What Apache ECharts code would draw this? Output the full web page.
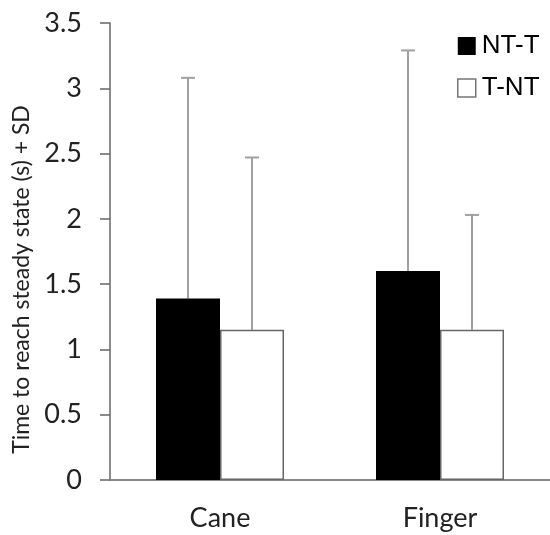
<!DOCTYPE html>
<html>
<head>
<meta charset="utf-8">
<script src="https://cdn.jsdelivr.net/npm/echarts@6/dist/echarts.min.js"></script>
<style>html,body{margin:0;padding:0;background:#fff}#c{width:550px;height:535px}</style>
</head>
<body>
<div id="c"></div>
<script>
var categories = ['Cane', 'Finger'];
var seriesNames = ['NT-T', 'T-NT'];
var meanNTT = [1.39, 1.60];
var meanTNT = [1.15, 1.15];
var sdTopNTT = [3.08, 3.29];
var sdTopTNT = [2.47, 2.03];
var yTicks = { min: 0, max: 3.5, interval: 0.5 };
var yTitle = 'Time to reach steady state (s) + SD';

var BAR_W = 64;
var LABEL_FONT = 'Lato, "Open Sans", sans-serif';

function errSeries(means, tops, offsetSign, color) {
  var data = categories.map(function (c, i) { return [i, means[i], tops[i]]; });
  return {
    type: 'custom',
    z: 1,
    silent: true,
    data: data,
    renderItem: function (params, api) {
      var i = api.value(0);
      var p0 = api.coord([i, api.value(1)]);
      var p1 = api.coord([i, api.value(2)]);
      var x = p0[0] + offsetSign * BAR_W / 2;
      var cap = 7;
      var st = { stroke: color, lineWidth: 2 };
      return {
        type: 'group',
        children: [
          { type: 'line', shape: { x1: x, y1: p0[1], x2: x, y2: p1[1] }, style: st },
          { type: 'line', shape: { x1: x - cap, y1: p1[1], x2: x + cap, y2: p1[1] }, style: st }
        ]
      };
    }
  };
}

var chart = echarts.init(document.getElementById('c'), null, { renderer: 'canvas' });
chart.setOption({
  backgroundColor: '#fff',
  animation: false,
  grid: { left: 110, right: -8, top: 23, bottom: 55, containLabel: false },
  legend: {
    orient: 'vertical',
    left: 452,
    top: 28,
    itemWidth: 18,
    itemHeight: 18,
    itemGap: 16,
    icon: 'rect',
    textStyle: { fontFamily: '"Liberation Sans", Arial, sans-serif', fontSize: 26, color: '#000', padding: [0, 0, 0, 1] },
    data: [
      { name: seriesNames[0], itemStyle: { color: '#000', borderColor: '#000', borderWidth: 0 } },
      { name: seriesNames[1], itemStyle: { color: '#fff', borderColor: '#777', borderWidth: 1.5 } }
    ]
  },
  xAxis: {
    type: 'category',
    data: categories,
    axisLine: { lineStyle: { color: '#888', width: 2 } },
    axisTick: { show: false },
    axisLabel: { fontFamily: LABEL_FONT, fontSize: 27, color: '#222', margin: 25 }
  },
  yAxis: {
    type: 'value',
    min: yTicks.min,
    max: yTicks.max,
    interval: yTicks.interval,
    name: yTitle,
    nameLocation: 'middle',
    nameGap: 66,
    nameTextStyle: { fontFamily: LABEL_FONT, fontSize: 23, color: '#222', padding: [0, 56, 0, 0] },
    axisLine: { show: true, lineStyle: { color: '#666', width: 1.5 } },
    axisTick: { show: true, inside: false, length: 10, lineStyle: { color: '#666', width: 1.5 } },
    splitLine: { show: false },
    axisLabel: { fontFamily: LABEL_FONT, fontSize: 27, color: '#222', margin: 28 }
  },
  series: [
    {
      name: seriesNames[0], type: 'bar', data: meanNTT, barWidth: BAR_W, barGap: '0%', z: 2,
      itemStyle: { color: '#000', borderColor: '#000', borderWidth: 0 }
    },
    {
      name: seriesNames[1], type: 'bar', data: meanTNT, barWidth: BAR_W, barGap: '0%', z: 2,
      itemStyle: { color: '#fff', borderColor: '#666', borderWidth: 1.5 }
    },
    errSeries(meanNTT, sdTopNTT, -1, '#a0a0a0'),
    errSeries(meanTNT, sdTopTNT, 1, '#a0a0a0')
  ]
});
</script>
</body>
</html>
